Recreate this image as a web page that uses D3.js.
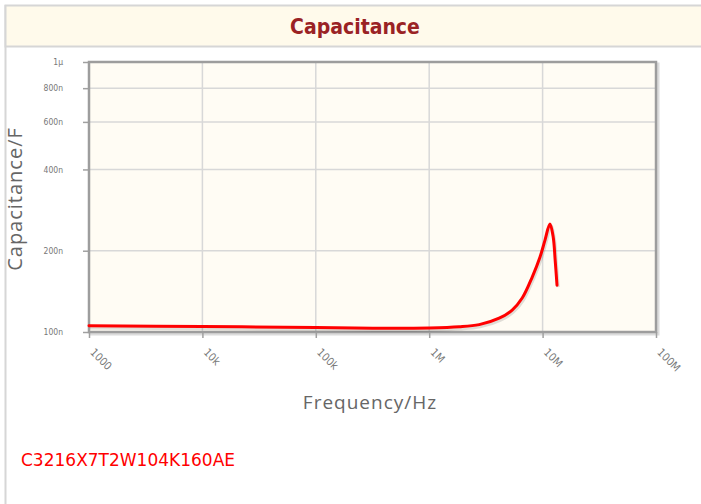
<!DOCTYPE html>
<html>
<head>
<meta charset="UTF-8" />
<title>Capacitance</title>
<style>
    body { margin: 0; padding: 0; background: #fff; }
    svg { display: block; }
</style>
</head>
<body>
<div class="container"></div>
<script src="https://cdnjs.cloudflare.com/ajax/libs/d3/7.8.5/d3.min.js"></script>
<script>
    // data
    const freq = [1e3, 1e4, 1e5, 3.18e5, 1e6, 1.84e6, 2.76e6, 4.14e6, 5.39e6, 6.61e6, 8.1e6, 9.49e6, 1.05e7, 1.16e7, 1.24e7, 1.29e7, 1.34e7]
    const cap = [1.055e-7, 1.048e-7, 1.039e-7, 1.033e-7, 1.035e-7, 1.045e-7, 1.065e-7, 1.125e-7, 1.206e-7, 1.336e-7, 1.598e-7, 1.896e-7, 2.19e-7, 2.51e-7, 2.25e-7, 1.85e-7, 1.49e-7]
    const xTicks = [1e3, 1e4, 1e5, 1e6, 1e7, 1e8]
    const xTickLabels = ['1000', '10k', '100k', '1M', '10M', '100M']
    const yTicks = [1e-7, 2e-7, 4e-7, 6e-7, 8e-7, 1e-6]
    const yTickLabels = ['100n', '200n', '400n', '600n', '800n', '1µ']
    const title = 'Capacitance'
    const partNumber = 'C3216X7T2W104K160AE'

    const W = 701, H = 504
    const plot = { left: 89, right: 656, top: 62, bottom: 332 }

    const svg = d3.select('.container').append('svg')
        .attr('width', W).attr('height', H)

    // outer panel + header
    svg.append('line').attr('x1', 5.5).attr('x2', 5.5).attr('y1', 5).attr('y2', H)
        .attr('stroke', '#d6d6d6').attr('stroke-width', 2)
    svg.append('rect').attr('x', 5.5).attr('y', 5.5).attr('width', W).attr('height', 41)
        .attr('fill', '#fffaeb').attr('stroke', '#d6d6d6').attr('stroke-width', 2)
    svg.append('text').attr('x', 355).attr('y', 34).attr('text-anchor', 'middle')
        .attr('font-family', 'DejaVu Sans Condensed, DejaVu Sans').attr('font-weight', 'bold')
        .attr('font-size', 21).attr('fill', '#9a2224').text(title)

    const x = d3.scaleLog().domain([1e3, 1e8]).range([plot.left, plot.right])
    const y = d3.scaleLog().domain([1e-7, 1e-6]).range([plot.bottom, plot.top])

    // shadow + background
    svg.append('rect').attr('x', plot.left + 2).attr('y', plot.top + 2)
        .attr('width', plot.right - plot.left).attr('height', plot.bottom - plot.top)
        .attr('fill', 'none').attr('stroke', '#dcdcdc').attr('stroke-width', 3)
    svg.append('rect').attr('x', plot.left).attr('y', plot.top)
        .attr('width', plot.right - plot.left).attr('height', plot.bottom - plot.top)
        .attr('fill', '#fffcf4')

    // grid
    svg.append('g').selectAll('line').data(xTicks.slice(1, -1)).join('line')
        .attr('x1', d => x(d)).attr('x2', d => x(d))
        .attr('y1', plot.top).attr('y2', plot.bottom)
        .attr('stroke', '#d8d8d8').attr('stroke-width', 1.5)
    svg.append('g').selectAll('line').data(yTicks.slice(1, -1)).join('line')
        .attr('y1', d => y(d)).attr('y2', d => y(d))
        .attr('x1', plot.left).attr('x2', plot.right)
        .attr('stroke', '#d8d8d8').attr('stroke-width', 1.5)

    // axes
    const xAxis = d3.axisBottom(x).tickValues(xTicks)
        .tickFormat((d, i) => xTickLabels[i]).tickSize(6)
    const gx = svg.append('g').attr('transform', `translate(0,${plot.bottom})`).call(xAxis)
    gx.selectAll('text')
        .attr('text-anchor', 'start').attr('dy', 0).attr('y', 0).attr('x', 0)
        .attr('transform', 'translate(0,21) rotate(45)')

    const yAxis = d3.axisLeft(y).tickValues(yTicks)
        .tickFormat((d, i) => yTickLabels[i]).tickSize(6).tickPadding(20)
    const gy = svg.append('g').attr('transform', `translate(${plot.left},0)`).call(yAxis)

    for (const g of [gx, gy]) {
        g.select('.domain').remove()
        g.selectAll('line').attr('stroke', '#a0a0a0').attr('stroke-width', 1.5)
        g.selectAll('text').attr('fill', '#777')
            .attr('font-family', 'DejaVu Sans Condensed, DejaVu Sans')
    }
    gx.selectAll('text').attr('font-size', 11)
    gy.selectAll('text').attr('font-size', 8.5)

    // plot border
    svg.append('rect').attr('x', plot.left).attr('y', plot.top)
        .attr('width', plot.right - plot.left).attr('height', plot.bottom - plot.top)
        .attr('fill', 'none').attr('stroke', '#9d9d9d').attr('stroke-width', 2.5)

    // curve
    const pts = freq.map((f, i) => [f, cap[i]])
    const line = d3.line().x(d => x(d[0])).y(d => y(d[1])).curve(d3.curveCatmullRom.alpha(0.5))
    svg.append('path').datum(pts).attr('d', line)
        .attr('fill', 'none').attr('stroke', 'rgba(0,0,0,0.12)').attr('stroke-width', 3.5)
        .attr('transform', 'translate(1,2)')
    svg.append('path').datum(pts).attr('d', line)
        .attr('fill', 'none').attr('stroke', '#ff0000').attr('stroke-width', 3)
        .attr('stroke-linejoin', 'round').attr('stroke-linecap', 'round')

    // axis titles
    svg.append('text').attr('x', 370).attr('y', 409).attr('text-anchor', 'middle')
        .attr('font-family', 'Open Sans').attr('font-size', 19).attr('letter-spacing', 1)
        .attr('fill', '#666').text('Frequency/Hz')
    svg.append('text').attr('transform', 'translate(22,199) rotate(-90)').attr('text-anchor', 'middle')
        .attr('font-family', 'Open Sans').attr('font-size', 20).attr('letter-spacing', 1)
        .attr('fill', '#666').text('Capacitance/F')

    svg.append('text').attr('x', 21).attr('y', 466)
        .attr('font-family', 'DejaVu Sans').attr('font-size', 17).attr('fill', '#ff0000')
        .text(partNumber)
</script>
</body>
</html>
